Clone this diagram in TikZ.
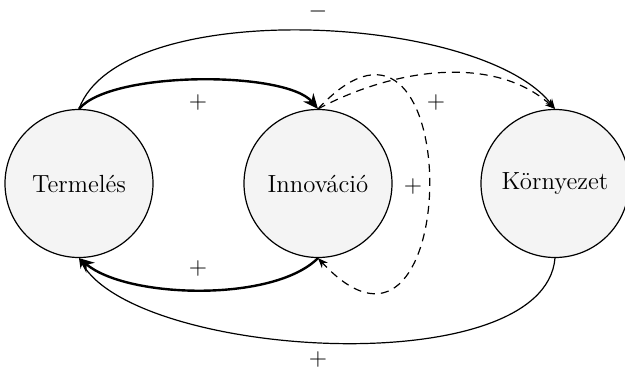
\documentclass[tikz,border=0pt]{standalone}
\usetikzlibrary{arrows.meta}
\definecolor{nodefill}{HTML}{F4F4F4}
\begin{document}
\begin{tikzpicture}[x=0.5pt,y=-0.5pt,
  every node/.style={font=\fontsize{12.4}{15}\selectfont},
  circ/.style={circle,draw=black,line width=0.6pt,fill=nodefill,minimum size=74pt,inner sep=0pt},
  thinarr/.style={line width=0.6pt,-{Stealth[length=5pt,width=4pt]}},
  thickarr/.style={line width=1.2pt,-{Stealth[length=7.5pt,width=6.5pt]}},
  dasharr/.style={line width=0.6pt,dash pattern=on 4pt off 3pt,-{Stealth[length=5pt,width=4pt]}},
  lbl/.style={inner sep=0pt}]
\useasboundingbox (0,0) rectangle (625,369);
\node[circ] (T) at (79,183.5) {Termelés};
\node[circ] (I) at (318,183.5) {Innováció};
\node[circ] (K) at (555,183.5) {Környezet};
% top thin T->K
\draw[thinarr] (T.north) .. controls +(-70:120) and +(-128:122) .. (K.north);
% top thick T->I
\draw[thickarr] (T.north) .. controls +(-50:50) and +(-130:50) .. (I.north);
% dashed I->K
\draw[dasharr] (I.north) .. controls +(-28:90) and +(-138:80) .. (K.north);
% dashed loop I.north -> I.south
\draw[dasharr] (I.north) .. controls +(-47:220) and +(47:215) .. (I.south);
% bottom thick I->T
\draw[thickarr] (I.south) .. controls +(135:63) and +(40:63) .. (T.south);
% bottom thin K->T
\draw[thinarr] (K.south) .. controls +(95:126) and +(60:116) .. (T.south);
% labels
\node[lbl] (l1) at (318,12) {$-$};
\node[lbl] (l2) at (198,102) {$+$};
\node[lbl] (l3) at (436,102) {$+$};
\node[lbl] (l4) at (413,186) {$+$};
\node[lbl] (l5) at (198,268) {$+$};
\node[lbl] (l6) at (318,359) {$+$};
\end{tikzpicture}
\end{document}
